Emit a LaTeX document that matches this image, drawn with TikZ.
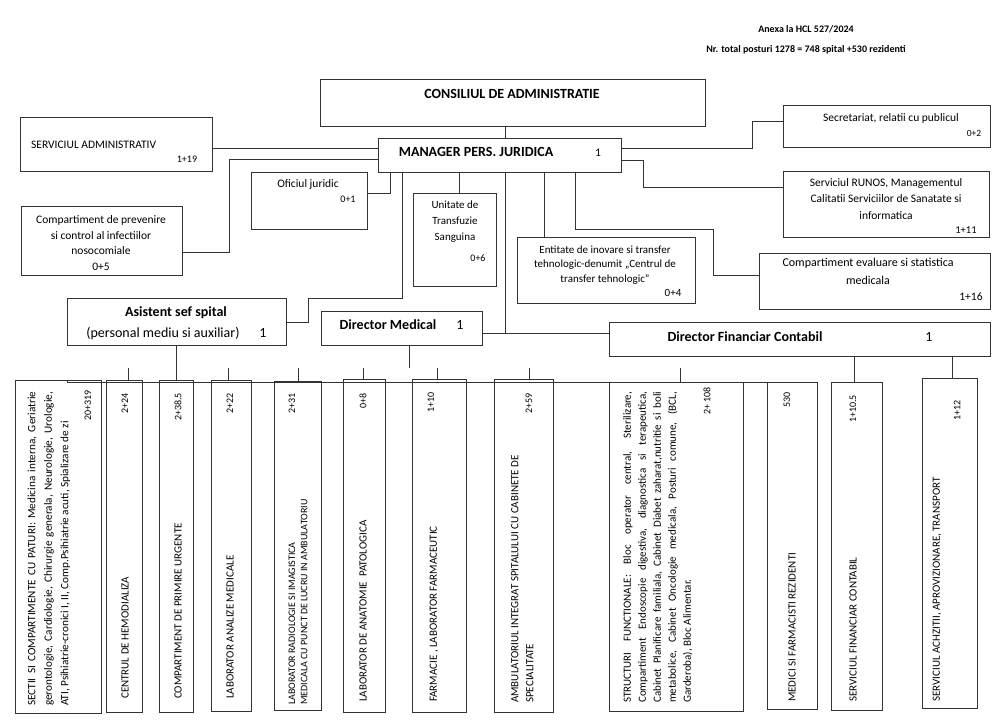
\documentclass[tikz,border=0pt]{standalone}
\usepackage{fontspec}
\setmainfont{Carlito}
\usetikzlibrary{calc}
\newcommand{\orgbox}[5]{\node[box,minimum width={(#4-#2)*1pt},minimum height={(#5-#3)*1pt}] (#1) at (#2,#3) {};}
\newcommand{\jline}[2]{\makebox[#1][s]{#2}}
\begin{document}
\begin{tikzpicture}[x=1pt,y=-1pt,
  box/.style={draw=black!80,line width=0.9pt,inner sep=0pt,outer sep=0pt,anchor=north west},
  conn/.style={draw=black!80,line width=0.9pt},
  t/.style={inner sep=0pt,font=\fontsize{11.5}{13}\selectfont},
  hdr/.style={inner sep=0pt,font=\fontsize{10}{12}\selectfont\bfseries},
  bt/.style={inner sep=0pt,font=\fontsize{14}{16}\selectfont\bfseries},
  big/.style={inner sep=0pt,font=\fontsize{14}{16}\selectfont},
  num/.style={inner sep=0pt,font=\fontsize{10}{12}\selectfont},
  rt/.style={rotate=90,inner sep=0pt,font=\fontsize{11}{13}\selectfont},
  rn/.style={rotate=90,inner sep=0pt,anchor=east,font=\fontsize{10}{12}\selectfont}]
\useasboundingbox (0,0) rectangle (1000,721);

% header
\node[hdr] (anexa) at (806,29) {Anexa la HCL 527/2024};
\node[hdr] (total) at (806,50) {Nr. total posturi 1278 = 748 spital +530 rezidenti};

% top boxes
\orgbox{cons}{320}{79}{705}{126}
\node[bt] (consT) at (512,94) {CONSILIUL DE ADMINISTRATIE};
\orgbox{mgr}{378}{138}{621}{172}
\node[bt] (mgrT) at (476,152) {MANAGER PERS. JURIDICA};
\node[t] (mgrN) at (598,153) {1};
\orgbox{sadm}{20}{117}{212}{171}
\node[t,anchor=west] (sadmT) at (31,145) {SERVICIUL ADMINISTRATIV};
\node[num] (sadmN) at (187,159) {1+19};
\orgbox{secr}{783}{105}{990}{147}
\node[t] (secrT) at (891,118) {Secretariat, relatii cu publicul};
\node[num,font=\fontsize{9.5}{11}\selectfont] (secrN) at (974,133) {0+2};
\orgbox{runos}{783}{171}{989}{237}
\node[t,align=center,font=\fontsize{11.5}{16.5}\selectfont] (runosT) at (886,199) {Serviciul RUNOS, Managementul\\Calitatii Serviciilor de Sanatate si\\informatica};
\node[num,font=\fontsize{10.5}{12}\selectfont] (runosN) at (966,230) {1+11};
\orgbox{evl}{759}{253}{990}{309}
\node[t,align=center,font=\fontsize{12}{18}\selectfont] (evlT) at (868,271) {Compartiment evaluare si statistica\\medicala};
\node[t] (evlN) at (971,297) {1+16};
\orgbox{ent}{517}{237}{695}{303}
\node[t,align=center,font=\fontsize{11}{14.5}\selectfont] (entT) at (605,265) {Entitate de inovare si transfer\\tehnologic-denumit „Centrul de\\transfer tehnologic”};
\node[t,font=\fontsize{11}{13}\selectfont] (entN) at (673,293) {0+4};
\orgbox{uts}{413}{193}{496}{286}
\node[t,align=center,font=\fontsize{11}{16}\selectfont] (utsT) at (455,222) {Unitate de\\Transfuzie\\Sanguina};
\node[num] (utsN) at (478,258) {0+6};
\orgbox{ofj}{251}{172}{367}{229}
\node[t] (ofjT) at (308,184) {Oficiul juridic};
\node[num] (ofjN) at (348,199) {0+1};
\orgbox{cpi}{21}{206}{182}{275}
\node[t,align=center,font=\fontsize{11.5}{15.7}\selectfont] (cpiT) at (101,243) {Compartiment de prevenire\\si control al infectiilor\\nosocomiale\\0+5};
\orgbox{asis}{67}{298}{286}{345}
\node[bt] (asisT) at (176,313) {Asistent sef spital};
\node[big] (asisS) at (163,333) {(personal mediu si auxiliar)};
\node[big] (asisN) at (263,333) {1};
\orgbox{dmed}{321}{311}{482}{345}
\node[bt] (dmedT) at (388,325) {Director Medical};
\node[big] (dmedN) at (460,325) {1};
\orgbox{dfin}{609}{322}{990}{356}
\node[bt] (dfinT) at (745,337) {Director Financiar Contabil};
\node[big] (dfinN) at (929,337) {1};

% bottom boxes
\orgbox{b1}{15}{380}{101}{713}
\orgbox{b2}{106}{380}{142}{712}
\orgbox{b3}{159}{380}{193}{712}
\orgbox{b4}{211}{380}{251}{711}
\orgbox{b5}{274}{381}{321}{710}
\orgbox{b6}{343}{379}{385}{712}
\orgbox{b7}{412}{379}{466}{712}
\orgbox{b8}{494}{379}{553}{712}
\orgbox{b9}{609}{382}{743}{711}
\orgbox{b10}{767}{382}{817}{709}
\orgbox{b11}{831}{382}{882}{710}
\orgbox{b12}{922}{378}{977}{708}

% bottom texts
\node[rt,anchor=north west,align=left,font=\fontsize{11.2}{16.5}\selectfont] (b1T) at (27.5,706) {\jline{314pt}{SECTII SI COMPARTIMENTE CU PATURI: Medicina interna, Geriatrie}\\\jline{314pt}{gerontologie, Cardiologie, Chirurgie generala, Neurologie, Urologie,}\\ATI, Psihiatrie-cronici I, II, Comp.Psihiatrie acuti, Spializare de zi};
\node[rn] (b1N) at (88,390) {20+319};
\node[rt,anchor=west] (b2T) at (125,699) {CENTRUL DE HEMODIALIZA};
\node[rn] (b2N) at (125,393) {2+24};
\node[rt,anchor=west] (b3T) at (178,699) {COMPARTIMENT DE PRIMIRE URGENTE};
\node[rn] (b3N) at (178,393) {2+38.5};
\node[rt,anchor=west] (b4T) at (230,699) {LABORATOR ANALIZE MEDICALE};
\node[rn] (b4N) at (230,393) {2+22};
\node[rt,anchor=north west,align=left,font=\fontsize{10}{12.3}\selectfont] (b5T) at (288.5,705) {LABORATOR RADIOLOGIE SI IMAGISTICA\\MEDICALA CU PUNCT DE LUCRU IN AMBULATORIU};
\node[rn] (b5N) at (292,393) {2+31};
\node[rt,anchor=west] (b6T) at (363,702) {LABORATOR DE ANATOMIE\ \ PATOLOGICA};
\node[rn] (b6N) at (363,393) {0+8};
\node[rt,anchor=west] (b7T) at (434,702) {FARMACIE , LABORATOR FARMACEUTIC};
\node[rn] (b7N) at (431,392) {1+10};
\node[rt,anchor=north west,align=left,font=\fontsize{11}{15}\selectfont] (b8T) at (511,703) {AMBULATORIUL INTEGRAT SPITALULUI CU CABINETE DE\\SPECIALITATE};
\node[rn] (b8N) at (529,393) {2+59};
\node[rt,anchor=north west,align=left,font=\fontsize{11}{15}\selectfont] (b9T) at (623,703) {\jline{311pt}{STRUCTURI FUNCTIONALE: Bloc operator central, Sterilizare,}\\\jline{311pt}{Compartiment Endoscopie digestiva, diagnostica si terapeutica,}\\\jline{311pt}{Cabinet Planificare familiala, Cabinet Diabet zaharat,nutritie si boli}\\\jline{311pt}{metabolice, Cabinet Oncologie medicala, Posturi comune, (BCL,}\\Garderoba), Bloc Alimentar.};
\node[rn] (b9N) at (707,387) {2+ 108};
\node[rt,anchor=west] (b10T) at (792,702) {MEDICI SI FARMACISTI REZIDENTI};
\node[rn] (b10N) at (787,392) {530};
\node[rt,anchor=west] (b11T) at (853,702) {SERVICIUL FINANCIAR CONTABIL};
\node[rn] (b11N) at (853,395) {1+10.5};
\node[rt,anchor=west] (b12T) at (937,702) {SERVICIUL ACHZITII, APROVIZIONARE, TRANSPORT};
\node[rn] (b12N) at (957,400) {1+12};

% connectors
\draw[conn] (cons.south -| 505,0) -- (mgr.north -| 505,0);
\draw[conn] (sadm.east |- 0,148) -- (mgr.west |- 0,148);
\draw[conn] (mgr.east |- 0,148) -| (752,121) -- (secr.west |- 0,121);
\draw[conn] (mgr.east |- 0,160) -| (643,187) -- (runos.west |- 0,187);
\draw[conn] (mgr.south -| 575,0) |- (713,229) |- (evl.west |- 0,275);
\draw[conn] (mgr.south -| 544,0) -- (ent.north -| 544,0);
\draw[conn] (mgr.south -| 459,0) -- (uts.north -| 459,0);
\draw[conn] (mgr.south -| 390,0) |- (ofj.east |- 0,193);
\draw[conn] (mgr.west |- 0,159) -| (229,252) -- (cpi.east |- 0,252);
\draw[conn] (mgr.south -| 402,0) |- (308,298) |- (asis.east |- 0,322);
\draw[conn] (mgr.south -| 505,0) -- (505,333);
\draw[conn] (dmed.east |- 0,333) -- (dfin.west |- 0,333);
\draw[conn] (asis.south -| 176,0) -- (b3.north -| 176,0);
\draw[conn] (dmed.south -| 409,0) -- (409,368);
\draw[conn] (b1.north -| 67,0) |- (b10.north -| 794,368) -- (b10.north -| 794,0);
\draw[conn] (b2.north -| 128,0) -- (128,368);
\draw[conn] (b4.north -| 228,0) -- (228,368);
\draw[conn] (b5.north -| 298,0) -- (298,368);
\draw[conn] (b6.north -| 363,0) -- (363,368);
\draw[conn] (b7.north -| 437,0) -- (437,368);
\draw[conn] (b8.north -| 529,0) -- (529,368);
\draw[conn] (b9.north -| 680,0) -- (680,368);
\draw[conn] (dfin.south -| 854,0) -- (b11.north -| 854,0);
\draw[conn] (dfin.south -| 952,0) -- (b12.north -| 952,0);
\end{tikzpicture}
\end{document}
